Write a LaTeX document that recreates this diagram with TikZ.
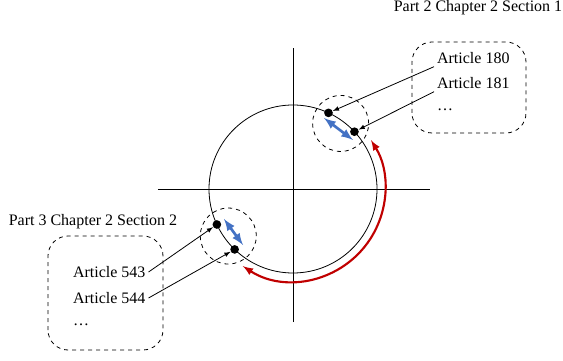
\documentclass[tikz,border=0pt]{standalone}
\usepackage{fontspec}
\setmainfont{Liberation Serif}
\definecolor{arcred}{HTML}{C00000}
\definecolor{moveblue}{HTML}{4472C4}
\begin{document}
\begin{tikzpicture}[x=0.75pt, y=0.75pt, line width=0.6pt, font=\fontsize{12}{14}\selectfont,
	dot/.style={circle, fill=black, inner sep=0pt, minimum size=6.5pt},
	group/.style={draw, dashed, rounded corners=15pt},
	art/.style={anchor=west, inner sep=2pt}]
	\useasboundingbox (-293, -171) rectangle (270, 189);
	
	\draw (-135, 0) -- (137, 0);
	\draw (0, -133) -- (0, 141);
	\draw (0, 0) circle (84);
	
	% two moved groups of articles
	\draw[group] (119, 56) rectangle (233, 147);
	\draw[group] (-245, -161) rectangle (-130, -47);
	\draw[dashed] (54:81) circle (28);
	\draw[dashed] (216:80) circle (28);
	
	\node (t1) at (185, 181) {Part 2 Chapter 2 Section 1};
	\node[art] (a180) at (141, 131) {Article 180};
	\node[art] (a181) at (141, 106) {Article 181};
	\node[art] (d1) at (141, 79) {\dots};
	
	\node (t2) at (-200, -33) {Part 3 Chapter 2 Section 2};
	\node[art] (a543) at (-223, -83) {Article 543};
	\node[art] (a544) at (-223, -109) {Article 544};
	\node[art] (d2) at (-223, -136) {\dots};
	
	\node[dot] (p1) at (65:84) {};
	\node[dot] (p2) at (43:84) {};
	\node[dot] (p3) at (205:84) {};
	\node[dot] (p4) at (226:84) {};
	
	\draw[-latex] (a180.south west) -- (p1);
	\draw[-latex] (a181.south west) -- (p2);
	\draw[-latex] (a543.east) -- (p3);
	\draw[-latex] (a544.east) -- (p4);
	
	\draw[moveblue, line width=2pt, latex-latex] (31, 71) -- (60, 49);
	\draw[moveblue, line width=2pt, latex-latex] (-69, -30) -- (-50, -56);
	
	\draw[arcred, line width=1.6pt, latex-latex] (237:92) arc(237:392:92);
\end{tikzpicture}
\end{document}
